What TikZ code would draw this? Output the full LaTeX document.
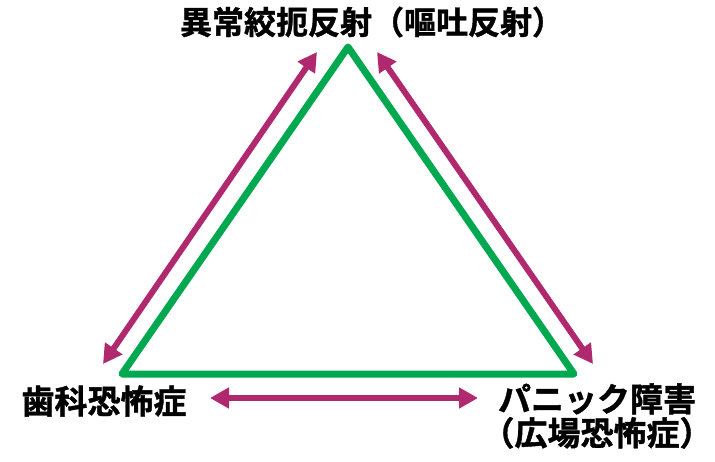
\documentclass[tikz,border=0pt]{standalone}
\usepackage{fontspec}
\setmainfont{Noto Sans CJK JP}[BoldFont={Noto Sans CJK JP Bold}, BoldFeatures={FakeBold=1.2}]
\usetikzlibrary{arrows.meta, positioning}
\definecolor{trigreen}{HTML}{00A84F}
\definecolor{linkred}{HTML}{B0286E}
\tikzset{
    triline/.style={draw=trigreen, line width=7pt, line join=round},
    myarrow/.style={<->, >={Triangle[length=19pt,width=20pt]}, draw=linkred, line width=6pt},
    mylabel/.style={font=\fontsize{32}{34}\selectfont\bfseries, inner sep=0pt, align=center},
    biglabel/.style={mylabel, font=\fontsize{33}{34}\selectfont\bfseries}
}

\begin{document}
\begin{tikzpicture}[x=1pt, y=-1pt]

        \useasboundingbox (0,0) rectangle (715,461);

        % ------------------
        % triangle corners
        % ------------------

        \coordinate (apex) at (348,47);
        \coordinate (corner1) at (122,374);
        \coordinate (corner2) at (574,374);

        % ------------------
        % nodes
        % ------------------

        \node[mylabel] (gag) at (372,22) {異常絞扼反射（嘔吐反射）};
        \node[biglabel] (dental) at (104,401) {歯科恐怖症};
        \node[biglabel] (panic) at (597,416) {パニック障害\\（広場恐怖症）};

        % ------------------
        % arrow ends
        % ------------------

        \coordinate (leftup) at (317,52);
        \coordinate (leftdown) at (103,364);
        \coordinate (rightup) at (377,52);
        \coordinate (rightdown) at (593,364);
        \coordinate (bottomleft) at (210,398);
        \coordinate (bottomright) at (478,398);

        % ------------------
        % triangle
        % ------------------

        \draw[triline] (apex) -- (corner1) -- (corner2) -- cycle;

        % ------------------
        % arrows
        % ------------------

        \draw[myarrow] (leftdown) -- (leftup);
        \draw[myarrow] (rightup) -- (rightdown);
        \draw[myarrow] (bottomleft) -- (bottomright);

\end{tikzpicture}
\end{document}
